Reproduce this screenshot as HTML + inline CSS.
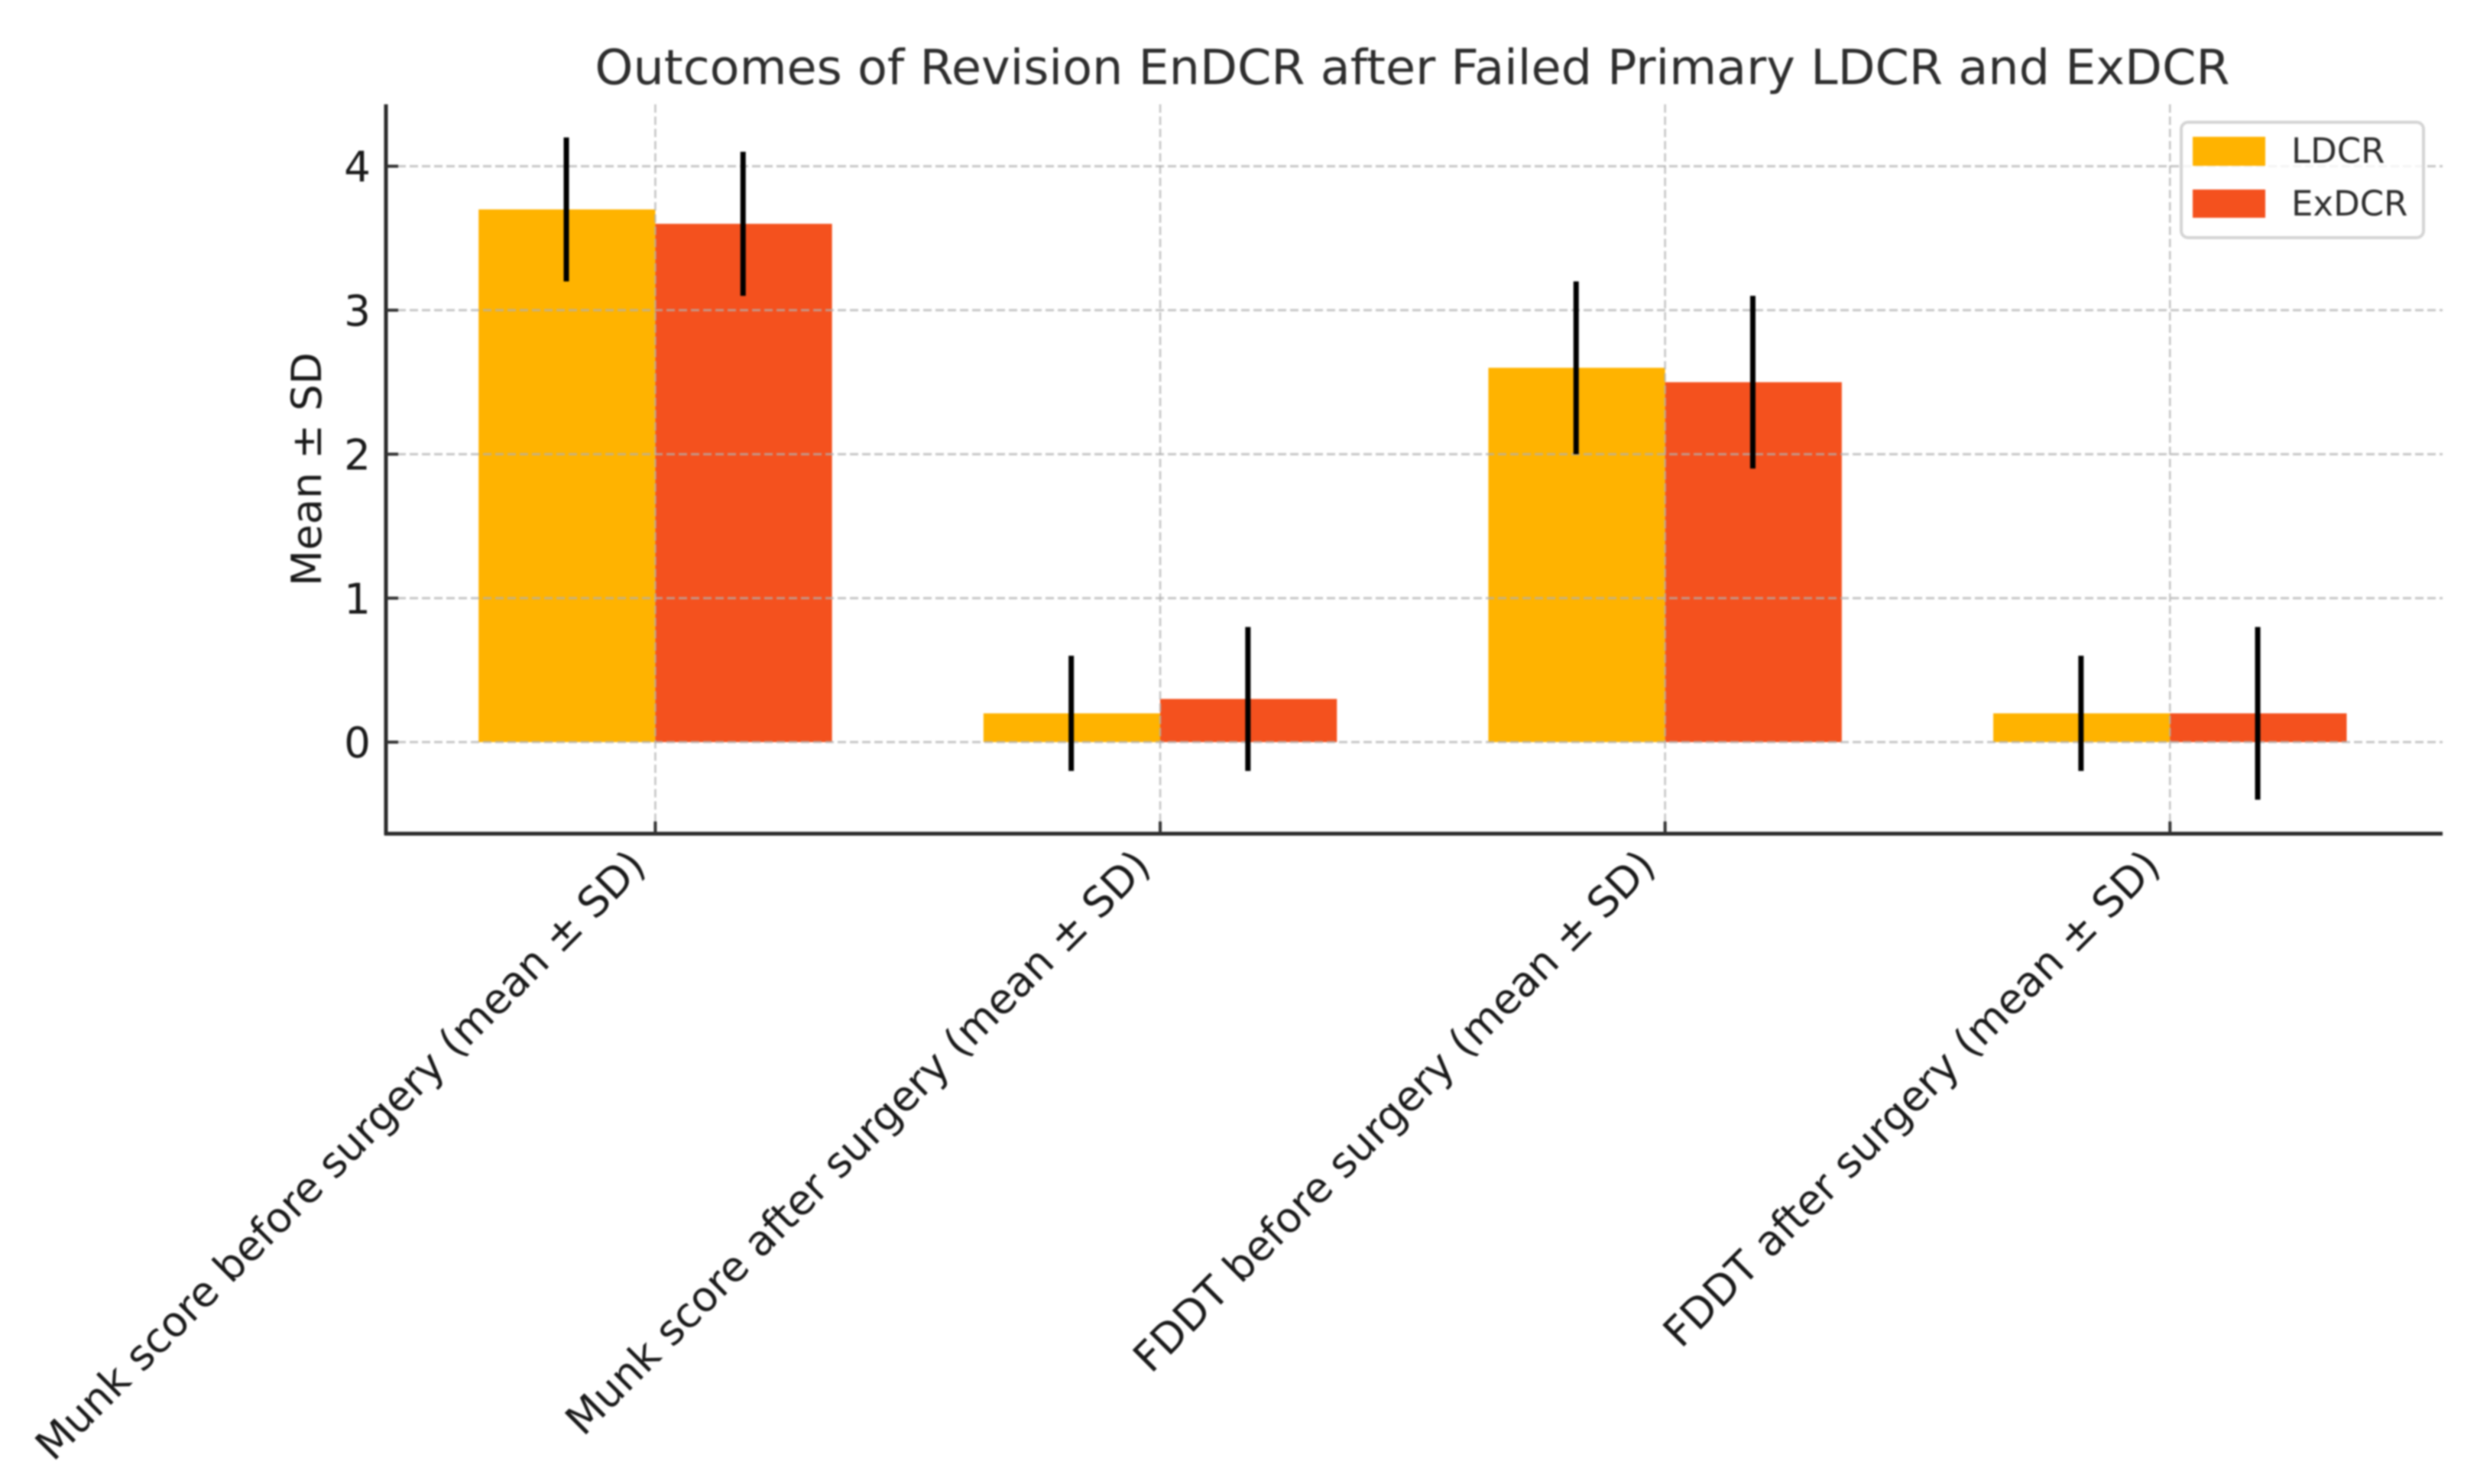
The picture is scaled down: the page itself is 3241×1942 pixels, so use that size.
<!DOCTYPE html>
<html lang="en">
<head>
<meta charset="utf-8">
<title>Outcomes of Revision EnDCR after Failed Primary LDCR and ExDCR</title>
<style>
html,body{margin:0;padding:0;background:#fff;width:3241px;height:1942px;overflow:hidden}
svg{display:block;font-family:"DejaVu Sans","Liberation Sans",sans-serif;filter:blur(1px)}
</style>
</head>
<body>
<svg id="chart" xmlns="http://www.w3.org/2000/svg" width="3241" height="1942" viewBox="0 0 3241 1942">
  <rect x="0" y="0" width="3241" height="1942" fill="#ffffff"/>
  <g id="bars"></g>
  <g id="grid"></g>
  <g id="errors"></g>
  <g id="axes"></g>
  <g id="yticks"></g>
  <g id="xticks"></g>
  <text x="1848" y="110" text-anchor="middle" font-size="63.6" fill="#2e2e2e">Outcomes of Revision EnDCR after Failed Primary LDCR and ExDCR</text>
  <text transform="translate(420 614) rotate(-90)" text-anchor="middle" font-size="54.6" fill="#1a1a1a">Mean ± SD</text>
  <g>
    <rect x="2854" y="160" width="317" height="151" rx="9" fill="#ffffff" fill-opacity="0.8" stroke="#d4d4d4" stroke-width="4"/>
    <g>
      <rect x="2869" y="179" width="95" height="38" fill="#FFB300"/>
      <text x="2998" y="213" font-size="45" fill="#2e2e2e">LDCR</text>
    </g>
    <g>
      <rect x="2869" y="248" width="95" height="37" fill="#F4511E"/>
      <text x="2998" y="282" font-size="45" fill="#2e2e2e">ExDCR</text>
    </g>
  </g>
</svg>
<script>
const categories = [
  "Munk score before surgery (mean ± SD)",
  "Munk score after surgery (mean ± SD)",
  "FDDT before surgery (mean ± SD)",
  "FDDT after surgery (mean ± SD)"
];
const ldcrMeans = [3.7, 0.2, 2.6, 0.2];
const ldcrSD = [0.5, 0.4, 0.6, 0.4];
const exdcrMeans = [3.6, 0.3, 2.5, 0.2];
const exdcrSD = [0.5, 0.5, 0.6, 0.6];
const yTickValues = [0, 1, 2, 3, 4];

const NS = "http://www.w3.org/2000/svg";
const plot = {left: 504, right: 3196, top: 136.5, bottom: 1091};
const xDomain = [-0.535, 3.54];
const yDomain = [-0.636, 4.43];
const barWidth = 0.35;

function xScale(v) {
  return plot.left + (v - xDomain[0]) / (xDomain[1] - xDomain[0]) * (plot.right - plot.left);
}
function yScale(v) {
  return plot.bottom - (v - yDomain[0]) / (yDomain[1] - yDomain[0]) * (plot.bottom - plot.top);
}
function make(tag, attrs, parentId) {
  const node = document.createElementNS(NS, tag);
  for (const k in attrs) node.setAttribute(k, attrs[k]);
  document.getElementById(parentId).appendChild(node);
  return node;
}

categories.forEach(function (cat, i) {
  const x0 = xScale(i - barWidth);
  const xc = xScale(i);
  const x1 = xScale(i + barWidth);

  const b1 = make('rect', {x: x0, y: Math.min(yScale(ldcrMeans[i]), yScale(0)), width: xc - x0, height: Math.abs(yScale(0) - yScale(ldcrMeans[i])), fill: '#FFB300'}, 'bars');
  
  

  const b2 = make('rect', {x: xc, y: Math.min(yScale(exdcrMeans[i]), yScale(0)), width: x1 - xc, height: Math.abs(yScale(0) - yScale(exdcrMeans[i])), fill: '#F4511E'}, 'bars');
  
  

  const e1x = xScale(i - barWidth / 2) - 0.8;
  const e1 = make('line', {x1: e1x, x2: e1x, y1: yScale(ldcrMeans[i] - ldcrSD[i]), y2: yScale(ldcrMeans[i] + ldcrSD[i]), stroke: '#000', 'stroke-width': 7}, 'errors');
  
  

  const e2x = xScale(i + barWidth / 2) - 0.8;
  const e2 = make('line', {x1: e2x, x2: e2x, y1: yScale(exdcrMeans[i] - exdcrSD[i]), y2: yScale(exdcrMeans[i] + exdcrSD[i]), stroke: '#000', 'stroke-width': 7}, 'errors');
  
  

  const gv = make('line', {x1: xc, x2: xc, y1: plot.top, y2: plot.bottom, stroke: '#b0b0b0', 'stroke-opacity': 0.75, 'stroke-width': 2.5, 'stroke-dasharray': '11 5'}, 'grid');
  
  

  const tick = make('line', {x1: xc, x2: xc, y1: plot.bottom, y2: plot.bottom - 16, stroke: '#333', 'stroke-width': 4}, 'xticks');
  
  

  const label = make('text', {transform: 'translate(' + (xc - 10) + ' ' + (plot.bottom + 45) + ') rotate(-45)', 'text-anchor': 'end', 'font-size': 54.5, fill: '#1a1a1a'}, 'xticks');
  label.textContent = cat;
  
  
});

yTickValues.forEach(function (v) {
  const y = yScale(v);
  const g = make('line', {x1: plot.left, x2: plot.right, y1: y, y2: y, stroke: '#b0b0b0', 'stroke-opacity': 0.72, 'stroke-width': 3, 'stroke-dasharray': '11 5'}, 'grid');
  
  

  const t = make('line', {x1: plot.left + 1, x2: plot.left + 17, y1: y, y2: y, stroke: '#333', 'stroke-width': 4}, 'yticks');
  
  

  const l = make('text', {x: 485, y: y + 20, 'text-anchor': 'end', 'font-size': 54.8, fill: '#1a1a1a'}, 'yticks');
  l.textContent = v;
  
  
});

const ySpine = make('line', {x1: plot.left + 1, x2: plot.left + 1, y1: plot.top, y2: plot.bottom + 2, stroke: '#2a2a2a', 'stroke-width': 5}, 'axes');



const xSpine = make('line', {x1: plot.left - 1, x2: plot.right, y1: plot.bottom, y2: plot.bottom, stroke: '#2a2a2a', 'stroke-width': 5}, 'axes');


</script>
</body>
</html>
